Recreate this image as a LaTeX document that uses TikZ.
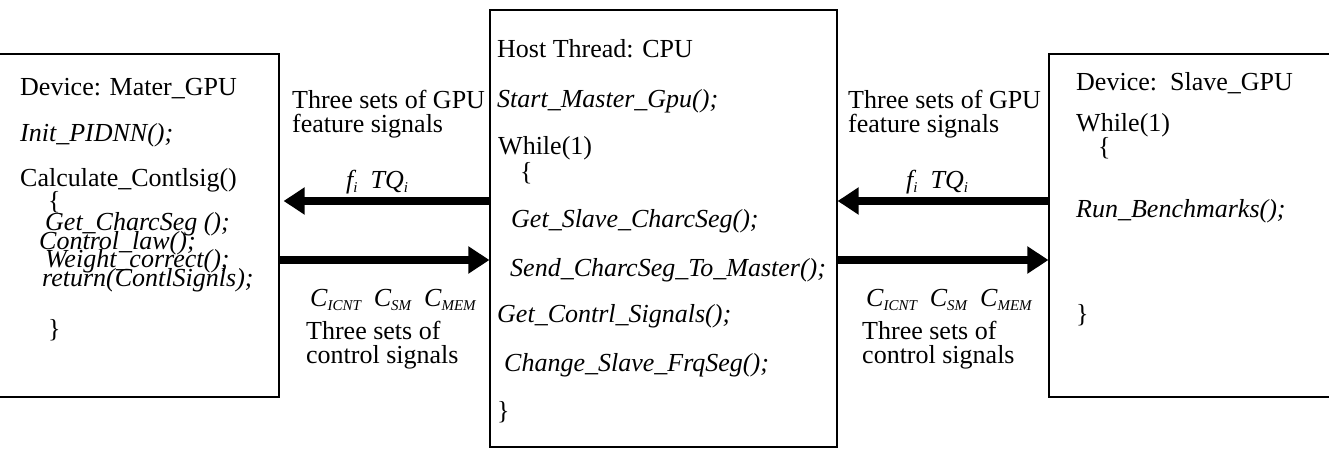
\documentclass[tikz,border=0pt]{standalone}
\usepackage{fontspec}
\setmainfont{Liberation Serif}
\usetikzlibrary{arrows.meta}
\newcommand\subs[1]{\raisebox{-0.35ex}{\fontsize{15}{15}\selectfont #1}}
\newcommand\tightlines{\lineskiplimit=-100pt\relax\lineskip=0pt\relax}
\begin{document}
\begin{tikzpicture}[x=1pt,y=-1pt,
 txt/.style={anchor=base west, inner sep=0pt, font=\fontsize{26}{30}\selectfont},
 itx/.style={anchor=base west, inner sep=0pt, font=\fontsize{26}{30}\selectfont\itshape},
 box/.style={draw, line width=1.2pt, inner sep=0pt},
 bigarrow/.style={line width=8pt, -{Triangle[length=21pt,width=26pt]}}]
\useasboundingbox (0,0) rectangle (1329,449);
% boxes
\node[box, minimum width=290pt, minimum height=343pt] (M) at (134,225.5) {};
\node[box, minimum width=347pt, minimum height=437pt] (H) at (663.5,228.5) {};
\node[box, minimum width=291pt, minimum height=343pt] (S) at (1194.5,225.5) {};
\coordinate (ya) at (0,201);
\coordinate (yb) at (0,260);
% arrows
\draw[bigarrow, shorten >=4pt] (H.west |- ya) -- (M.east |- ya);
\draw[bigarrow] (M.east |- yb) -- (H.west |- yb);
\draw[bigarrow] (S.west |- ya) -- (H.east |- ya);
\draw[bigarrow] (H.east |- yb) -- (S.west |- yb);
% master GPU
\node[txt] (m1) at (20,96) {Device: Mater\_GPU};
\node[itx] (m2) at (20,142) {Init\_PIDNN();};
\node[anchor=base west, inner sep=0pt, align=left,
  font=\fontsize{26}{18.5}\selectfont\tightlines]
  (m3) at (20,286) {Calculate\_Contlsig()\\[4.5pt]
  \hspace*{28pt}\{\\[2.5pt]
  \hspace*{25pt}\textit{Get\_CharcSeg ();}\\
  \hspace*{19pt}\textit{Control\_law();}\\
  \hspace*{25pt}\textit{Weight\_correct();}\\
  \hspace*{22pt}\textit{return(ContlSignls);}};
\node[txt] (m9) at (48,337) {\}};
% host
\node[txt] (h1) at (497,58) {Host Thread: CPU};
\node[itx] (h2) at (497,108) {Start\_Master\_Gpu();};
\node[txt] (h3) at (498,155) {While(1)};
\node[txt] (h4) at (520,180) {\{};
\node[itx] (h5) at (511,227) {Get\_Slave\_CharcSeg();};
\node[itx] (h6) at (510,276) {Send\_CharcSeg\_To\_Master();};
\node[itx] (h7) at (497,322) {Get\_Contrl\_Signals();};
\node[itx] (h8) at (504,371) {Change\_Slave\_FrqSeg();};
\node[txt] (h9) at (497,419) {\}};
% slave
\node[txt] (s1) at (1076,91) {Device:\ \ Slave\_GPU};
\node[txt] (s2) at (1076,132) {While(1)};
\node[txt] (s3) at (1098,156) {\{};
\node[itx] (s4) at (1076,217) {Run\_Benchmarks();};
\node[txt] (s5) at (1076,322) {\}};
% left labels
\node[txt] (l1) at (292,109) {Three sets of GPU};
\node[txt] (l2) at (292,133) {feature signals};
\node[itx] (l3) at (346,188) {f\subs{i}\ \ TQ\subs{i}};
\node[itx] (l4) at (310,306) {C\subs{ICNT}\ \ C\subs{SM}\ \ C\subs{MEM}};
\node[txt] (l5) at (306,339) {Three sets of};
\node[txt] (l6) at (306,363) {control signals};
% right labels
\node[txt] (r1) at (848,109) {Three sets of GPU};
\node[txt] (r2) at (848,133) {feature signals};
\node[itx] (r3) at (906,188) {f\subs{i}\ \ TQ\subs{i}};
\node[itx] (r4) at (866,306) {C\subs{ICNT}\ \ C\subs{SM}\ \ C\subs{MEM}};
\node[txt] (r5) at (862,339) {Three sets of};
\node[txt] (r6) at (862,363) {control signals};
\end{tikzpicture}
\end{document}
